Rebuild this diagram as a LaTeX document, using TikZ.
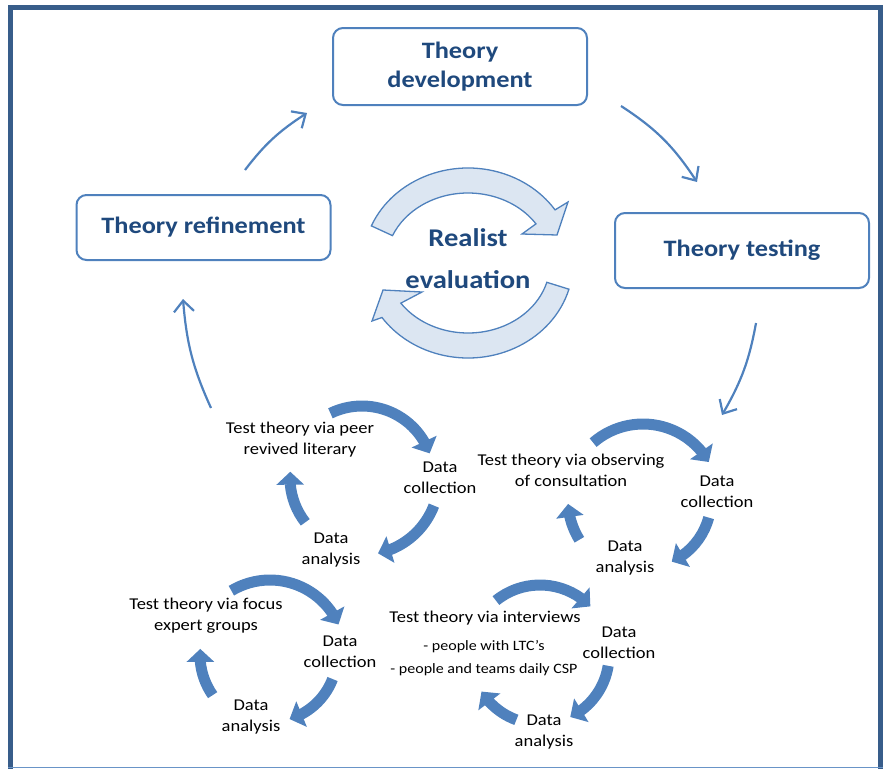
\documentclass[tikz,border=0pt]{standalone}
\usepackage{fontspec}
\setmainfont{Carlito}[FakeStretch=1.12]
\usetikzlibrary{arrows.meta, bending}
\definecolor{accent}{RGB}{79,129,189}
\definecolor{titleblue}{RGB}{31,73,125}
\definecolor{framecol}{RGB}{56,93,138}
\definecolor{palefill}{RGB}{220,230,242}

\begin{document}
\begin{tikzpicture}[x=1pt,y=1pt,
          box/.style={draw=accent,line width=2pt,rounded corners=10pt,fill=white,
                      minimum width=254pt,align=center,text=titleblue,
                      font=\fontsize{23.5}{29}\selectfont\bfseries},
          lbl/.style={align=center,inner sep=0pt,font=\fontsize{16.5}{21}\selectfont},
          flow/.style={accent,line width=2.2pt,-{Straight Barb[length=11pt,width=20pt]}},
          cyc/.style={accent,line width=11pt,-{Triangle[length=13pt,width=27pt]}},
          bigarrow/.style={draw=accent,line width=1.3pt,fill=palefill}]
        \useasboundingbox (0,0) rectangle (887,-769);
        % frame
        \draw[framecol,line width=5pt] (10.5,-772) -- (10.5,-7.5) -- (880,-7.5) -- (880,-772);
        \draw[accent!85,line width=1pt] (8,-767.5) -- (883,-767.5);
        % main cycle
        \node[box,minimum height=77pt](dev) at (460,-66.5){Theory\\development};
        \node[box,minimum height=65pt](refine) at (203.5,-227.5){Theory refinement};
        \node[box,minimum height=75pt](test) at (742,-250.5){Theory testing};
        % the two curved arrows in the middle
        \coordinate (E) at (468,-263);
        \filldraw[bigarrow] ([shift={(157:105 and 95)}]E)
          arc[start angle=157,end angle=34,x radius=105,y radius=95]
          -- ([shift={(100,61)}]E) -- ([shift={(89,28)}]E) -- ([shift={(54,29)}]E)
          -- ([shift={(34:82 and 70)}]E)
          arc[start angle=34,end angle=157,x radius=82,y radius=70] -- cycle;
        \filldraw[bigarrow] ([shift={(-16:105 and 95)}]E)
          arc[start angle=-16,end angle=-145,x radius=105,y radius=95]
          -- ([shift={(-96,-58)}]E) -- ([shift={(-85,-27)}]E) -- ([shift={(-46,-29)}]E)
          -- ([shift={(-145:82 and 70)}]E)
          arc[start angle=-145,end angle=-16,x radius=82,y radius=70] -- cycle;
        \node[align=center,text=titleblue,font=\fontsize{25.5}{42}\selectfont\bfseries](realist) at (468,-259){Realist\\evaluation};
        % testing loops
        \node[lbl](peer) at (300,-440){Test theory via peer\\revived literary};
        \node[lbl](peercol) at (440,-478){Data\\collection};
        \node[lbl](peerana) at (331,-550){Data\\analysis};
        \node[lbl](obs) at (571,-470){Test theory via observing\\of consultation};
        \node[lbl](obscol) at (717,-492){Data\\collection};
        \node[lbl](obsana) at (625,-558){Data\\analysis};
        \node[lbl](focus) at (206,-616){Test theory via focus\\expert groups};
        \node[lbl](focuscol) at (340,-652){Data\\collection};
        \node[lbl](focusana) at (251,-717){Data\\analysis};
        \node[lbl](inter) at (485,-618){Test theory via interviews};
        \node[lbl,font=\fontsize{14.3}{23}\selectfont](intersub) at (484,-658.5){- people with LTC’s\\- people and teams daily CSP};
        \node[lbl](intercol) at (619,-643){Data\\collection};
        \node[lbl](interana) at (544,-732){Data\\analysis};
        \coordinate (pc) at (362,-478);
        \draw[cyc] ([shift={(116:72)}]pc) arc[start angle=116,end angle=20,radius=72];
        \draw[cyc] ([shift={(-21:77)}]pc) arc[start angle=-21,end angle=-78,radius=77];
        \draw[cyc] ([shift={(218:72)}]pc) arc[start angle=218,end angle=175,radius=72];
        \coordinate (oc) at (643,-500);
        \draw[cyc] ([shift={(131:76)}]oc) arc[start angle=131,end angle=30,radius=76];
        \draw[cyc] ([shift={(-15:68)}]oc) arc[start angle=-15,end angle=-65,radius=68];
        \draw[cyc] ([shift={(212:75)}]oc) arc[start angle=212,end angle=183,radius=75];
        \coordinate (fc) at (270,-655);
        \draw[cyc] ([shift={(121:75)}]fc) arc[start angle=121,end angle=24,radius=75];
        \draw[cyc] ([shift={(-21:67)}]fc) arc[start angle=-21,end angle=-73,radius=67];
        \draw[cyc] ([shift={(215:70)}]fc) arc[start angle=215,end angle=175,radius=70];
        \coordinate (ic) at (540,-655);
        \draw[cyc] ([shift={(129:70)}]ic) arc[start angle=129,end angle=44,radius=70];
        \draw[cyc] ([shift={(-9:69)}]ic) arc[start angle=-9,end angle=-64,radius=69];
        \draw[cyc] ([shift={(250:69)}]ic) arc[start angle=250,end angle=212,radius=69];
        % links between the stages
        \draw[flow]([shift={(41.5,24)}]refine.north) to[bend left=10] ([shift={(-25,-7)}]dev.south west);
        \draw[flow]([shift={(33,0)}]dev.south east) to[bend left=12] ([shift={(-45,30)}]test.north);
        \draw[flow]([shift={(14,-34)}]test.south) to[bend left=10] ([shift={(79,85)}]oc);
        \draw[flow]([shift={(-151,70)}]pc) to[bend left=10] ([shift={(-20.5,-38)}]refine.south);
      \end{tikzpicture}
\end{document}
